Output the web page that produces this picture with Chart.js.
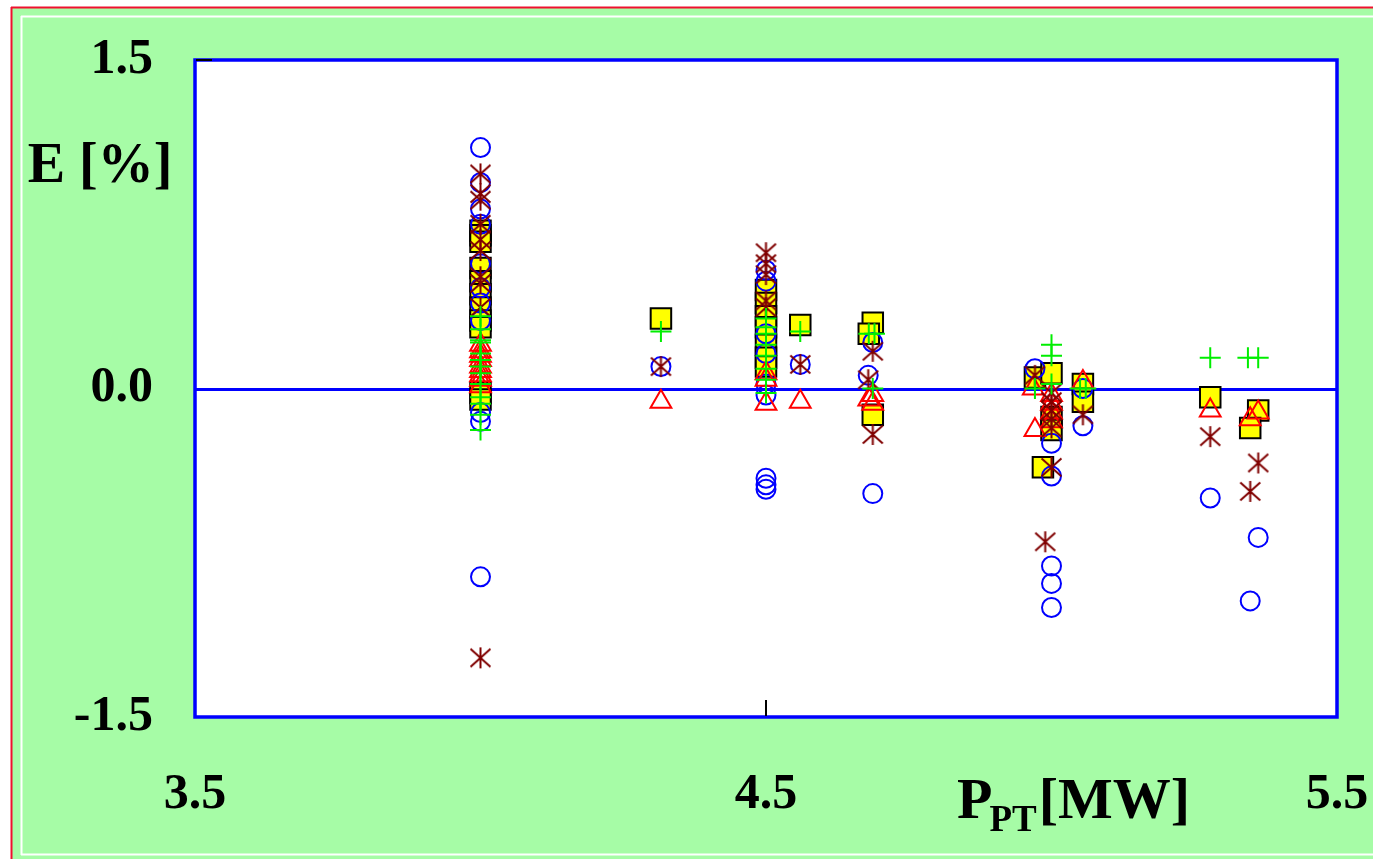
<!DOCTYPE html>
<html><head><meta charset="utf-8">
<script src="https://cdn.jsdelivr.net/npm/chart.js@4/dist/chart.umd.min.js"></script>
<style>html,body{margin:0;padding:0;background:#fff;overflow:hidden}</style>
</head><body>
<canvas id="c" width="1373" height="859"></canvas>
<script>
// ---- data ----
const xTickValues = [3.5, 4.5, 5.5];
const xTickLabels = ['3.5', '4.5', '5.5'];
const yTickValues = [-1.5, 0, 1.5];
const yTickLabels = ['-1.5', '0.0', '1.5'];
const yAxisTitle = 'E [%]';
const xAxisTitleMain = 'P';
const xAxisTitleSub = 'PT';
const xAxisTitleUnit = '[MW]';

const circleX = [4.0,4.0,4.0,4.0,4.0,4.0,4.0,4.0,4.0,4.0,4.0, 4.316, 4.5,4.5,4.5,4.5,4.5,4.5,4.5,4.5,4.5, 4.56, 4.687,4.679,4.687, 4.971, 5.0,5.0,5.0,5.0,5.0, 5.055,5.055, 5.278,5.362,5.348];
const circleY = [1.10,0.94,0.82,0.75,0.57,0.46,0.39,0.31,-0.11,-0.15,-0.86, 0.10, 0.54,0.49,0.25,0.16,0.02,-0.03,-0.41,-0.44,-0.46, 0.11, 0.21,0.06,-0.48, 0.09, -0.25,-0.40,-0.81,-0.89,-1.00, 0.00,-0.17, -0.50,-0.68,-0.97];

const starX = [4.0,4.0,4.0,4.0,4.0,4.0,4.0,4.0,4.0,4.0, 4.316, 4.5,4.5,4.5,4.5,4.5, 4.56, 4.687,4.679,4.687, 4.971, 5.0,5.0,5.0,5.0,5.0,5.0,4.989, 5.055, 5.278,5.362,5.348];
const starY = [0.98,0.89,0.86,0.75,0.68,0.63,0.51,0.48,0.37,-1.23, 0.10, 0.62,0.57,0.52,0.40,0.37, 0.11, 0.17,0.04,-0.21, 0.06, -0.02,-0.06,-0.10,-0.14,-0.18,-0.36,-0.70, -0.12, -0.22,-0.34,-0.47];

const squareX = [4.0,4.0,4.0,4.0,4.0,4.0,4.0,4.0,4.0,4.0,4.0, 4.316, 4.5,4.5,4.5,4.5,4.5,4.5,4.5, 4.56, 4.687,4.68,4.687, 4.971, 5.0,5.0,5.0,4.985, 5.055,5.055, 5.278,5.362,5.348];
const squareY = [0.72,0.70,0.67,0.55,0.49,0.43,0.37,0.31,0.28,-0.02,-0.05, 0.32, 0.45,0.39,0.33,0.28,0.20,0.14,0.10, 0.29, 0.30,0.25,-0.12, 0.05, 0.07,-0.13,-0.19,-0.36, 0.02,-0.06, -0.04,-0.10,-0.18];

const triangleX = [4.0,4.0,4.0,4.0,4.0,4.0,4.0,4.0,4.0, 4.316, 4.5,4.5,4.5, 4.56, 4.687,4.687,4.68, 4.968, 5.0,5.0,5.0,5.0,4.971, 5.055, 5.278,5.362,5.348];
const triangleY = [0.20,0.17,0.15,0.13,0.10,0.08,0.06,0.04,0.01, -0.06, 0.07,0.04,-0.07, -0.06, -0.03,-0.07,-0.05, 0.00, -0.03,-0.07,-0.11,-0.15,-0.19, 0.03, -0.10,-0.11,-0.14];

const crossX = [4.0,4.0,4.0,4.0,4.0,4.0,4.0,4.0,4.0,4.0,4.0,4.0,4.0, 4.316, 4.5,4.5,4.5,4.5,4.5,4.5,4.5,4.5, 4.56, 4.68,4.69,4.687, 4.971, 5.0,5.0,5.0, 5.05,5.06, 5.278,5.344,5.362];
const crossY = [0.33,0.27,0.22,0.21,0.16,0.13,0.10,0.07,0.02,-0.04,-0.07,-0.12,-0.19, 0.26, 0.32,0.28,0.25,0.20,0.15,0.09,0.04,-0.02, 0.26, 0.25,0.25,0.00, 0.00, 0.20,0.15,0.02, 0.00,0.00, 0.14,0.14,0.14];

function pts(xs, ys){ return xs.map((x,i)=>({x:x, y:ys[i]})); }

function makeAsterisk(size, color, lw){
  const c = document.createElement('canvas');
  c.width = size; c.height = size;
  const g = c.getContext('2d');
  g.strokeStyle = color; g.lineWidth = lw;
  const h = size/2, r = size/2 - 1;
  g.beginPath();
  g.moveTo(h, h-r); g.lineTo(h, h+r);
  g.moveTo(h-r*0.95, h-r*0.85); g.lineTo(h+r*0.95, h+r*0.85);
  g.moveTo(h+r*0.95, h-r*0.85); g.lineTo(h-r*0.95, h+r*0.85);
  g.stroke();
  return c;
}

const GREEN_BG = '#a6fca6';
const SERIF = '"Liberation Serif","Times New Roman",serif';

const framePlugin = {
  id: 'frame',
  beforeDraw(chart){
    const ctx = chart.ctx, W = chart.width, H = chart.height, a = chart.chartArea;
    ctx.save();
    ctx.fillStyle = '#ffffff'; ctx.fillRect(0,0,W,H);
    ctx.fillStyle = GREEN_BG; ctx.fillRect(11,7,W-11,H-7);
    ctx.lineWidth = 2;
    ctx.strokeStyle = '#f0102e';
    ctx.beginPath(); ctx.moveTo(11.5,7); ctx.lineTo(11.5,H); ctx.moveTo(11,7.5); ctx.lineTo(W,7.5); ctx.stroke();
    ctx.strokeStyle = '#ffffff';
    ctx.beginPath(); ctx.moveTo(21.5,16); ctx.lineTo(21.5,855); ctx.moveTo(21,16.5); ctx.lineTo(W,16.5); ctx.moveTo(21,854.5); ctx.lineTo(W,854.5); ctx.stroke();
    ctx.fillStyle = '#ffffff';
    ctx.fillRect(a.left, a.top, a.right-a.left, a.bottom-a.top);
    ctx.restore();
  },
  beforeDatasetsDraw(chart){
    const ctx = chart.ctx, a = chart.chartArea;
    const y0 = Math.round(chart.scales.y.getPixelForValue(0));
    ctx.save();
    ctx.strokeStyle = '#0000ff'; ctx.lineWidth = 3;
    ctx.beginPath(); ctx.moveTo(a.left, y0 + 0.5); ctx.lineTo(a.right, y0 + 0.5); ctx.stroke();
    ctx.restore();
  },
  afterDatasetsDraw(chart){
    const ctx = chart.ctx, a = chart.chartArea;
    ctx.save();
    ctx.strokeStyle = '#0000ff'; ctx.lineWidth = 3.5;
    ctx.strokeRect(a.left, a.top, a.right-a.left, a.bottom-a.top);
    // black tick marks
    ctx.strokeStyle = '#000000'; ctx.lineWidth = 2;
    const yt = chart.scales.y.getPixelForValue(1.5);
    ctx.beginPath(); ctx.moveTo(a.left+1, yt); ctx.lineTo(a.left+17, yt); ctx.stroke();
    const xt = chart.scales.x.getPixelForValue(4.5);
    ctx.beginPath(); ctx.moveTo(xt, a.bottom-1); ctx.lineTo(xt, a.bottom-17); ctx.stroke();
    // axis titles
    ctx.fillStyle = '#000000';
    ctx.textBaseline = 'alphabetic';
    ctx.textAlign = 'center';
    ctx.font = 'bold 56px ' + SERIF;
    ctx.fillText(yAxisTitle, 100, 182);
    ctx.textAlign = 'left';
    ctx.font = 'bold 58px ' + SERIF;
    ctx.fillText(xAxisTitleMain, 957, 818);
    const pw = ctx.measureText(xAxisTitleMain).width;
    ctx.font = 'bold 37px ' + SERIF;
    ctx.fillText(xAxisTitleSub, 957 + pw - 3, 831);
    const sw = ctx.measureText(xAxisTitleSub).width;
    ctx.font = 'bold 58px ' + SERIF;
    ctx.fillText(xAxisTitleUnit, 957 + pw - 3 + sw + 2, 818);
    ctx.restore();
  }
};

function zeroPad(s){ s.paddingLeft = 0; s.paddingRight = 0; s.paddingTop = 0; s.paddingBottom = 0; }

new Chart(document.getElementById('c'), {
  type: 'scatter',
  data: {
    datasets: [
      { label: 'cross', data: pts(crossX, crossY), pointStyle: 'cross', pointRadius: 10.5, borderColor: '#00ee00', borderWidth: 2, backgroundColor: 'transparent' },
      { label: 'asterisk', data: pts(starX, starY), pointStyle: makeAsterisk(23, '#800000', 2), pointRadius: 11, borderColor: '#800000', backgroundColor: '#800000' },
      { label: 'triangle', data: pts(triangleX, triangleY), pointStyle: 'triangle', pointRadius: 12, borderColor: '#ff0000', borderWidth: 2, backgroundColor: 'transparent' },
      { label: 'circle', data: pts(circleX, circleY), pointStyle: 'circle', pointRadius: 9.5, borderColor: '#0000ff', borderWidth: 2, backgroundColor: 'transparent' },
      { label: 'square', data: pts(squareX, squareY), pointStyle: 'rect', pointRadius: 14.5, borderColor: '#000000', borderWidth: 2, backgroundColor: '#ffff00' }
    ]
  },
  options: {
    responsive: false,
    animation: false,
    devicePixelRatio: 1,
    layout: { autoPadding: false, padding: { left: 0, top: 60, right: 36, bottom: 0 } },
    plugins: { legend: { display: false }, tooltip: { enabled: false } },
    scales: {
      x: {
        type: 'linear', min: 3.5, max: 5.5,
        afterBuildTicks(s){ s.ticks = xTickValues.map(v=>({value:v})); },
        afterFit(s){ s.height = 859 - 717; zeroPad(s); },
        grid: { display: false, drawTicks: false },
        border: { display: false },
        ticks: {
          padding: 48, color: '#000', maxRotation: 0, autoSkip: false,
          font: { family: SERIF, weight: 'bold', size: 50 },
          callback(v){ const i = xTickValues.indexOf(v); return i >= 0 ? xTickLabels[i] : ''; }
        }
      },
      y: {
        type: 'linear', min: -1.5, max: 1.5,
        afterBuildTicks(s){ s.ticks = yTickValues.map(v=>({value:v})); },
        afterFit(s){ s.width = 195; zeroPad(s); },
        grid: { display: false, drawTicks: false },
        border: { display: false },
        ticks: {
          padding: 42, color: '#000', autoSkip: false,
          font: { family: SERIF, weight: 'bold', size: 50 },
          callback(v){ const i = yTickValues.indexOf(v); return i >= 0 ? yTickLabels[i] : ''; }
        }
      }
    }
  },
  plugins: [framePlugin]
});
</script></body></html>
